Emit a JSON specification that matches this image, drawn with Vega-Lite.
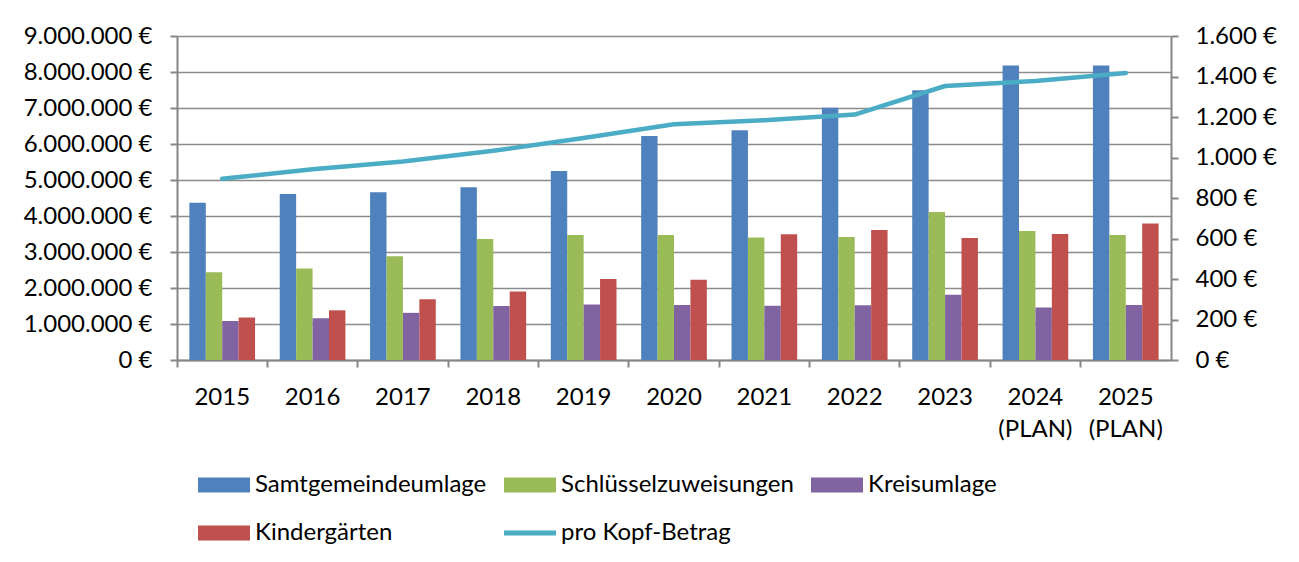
{
  "$schema": "https://vega.github.io/schema/vega-lite/v6.json",
  "width": 994,
  "height": 324,
  "autosize": {"type": "none"},
  "padding": {"left": 177, "top": 36, "right": 128, "bottom": 202},
  "background": "white",
  "config": {
    "view": {"stroke": null},
    "font": "Lato",
    "locale": {"number": {"decimal": ",", "thousands": ".", "grouping": [3], "currency": ["", " €"]}},
    "axis": {"labelFont": "Lato", "labelFontSize": 24, "labelColor": "#000000", "domainColor": "#868686", "domainWidth": 2, "tickColor": "#868686", "tickWidth": 2, "tickSize": 7, "title": null}
  },
  "datasets": {
    "bars": [
      {"Jahr": "2015", "Serie": "Samtgemeindeumlage", "Wert": 4370000},
      {"Jahr": "2015", "Serie": "Schlüsselzuweisungen", "Wert": 2440000},
      {"Jahr": "2015", "Serie": "Kreisumlage", "Wert": 1080000},
      {"Jahr": "2015", "Serie": "Kindergärten", "Wert": 1180000},
      {"Jahr": "2016", "Serie": "Samtgemeindeumlage", "Wert": 4610000},
      {"Jahr": "2016", "Serie": "Schlüsselzuweisungen", "Wert": 2540000},
      {"Jahr": "2016", "Serie": "Kreisumlage", "Wert": 1160000},
      {"Jahr": "2016", "Serie": "Kindergärten", "Wert": 1380000},
      {"Jahr": "2017", "Serie": "Samtgemeindeumlage", "Wert": 4660000},
      {"Jahr": "2017", "Serie": "Schlüsselzuweisungen", "Wert": 2880000},
      {"Jahr": "2017", "Serie": "Kreisumlage", "Wert": 1310000},
      {"Jahr": "2017", "Serie": "Kindergärten", "Wert": 1690000},
      {"Jahr": "2018", "Serie": "Samtgemeindeumlage", "Wert": 4800000},
      {"Jahr": "2018", "Serie": "Schlüsselzuweisungen", "Wert": 3360000},
      {"Jahr": "2018", "Serie": "Kreisumlage", "Wert": 1500000},
      {"Jahr": "2018", "Serie": "Kindergärten", "Wert": 1900000},
      {"Jahr": "2019", "Serie": "Samtgemeindeumlage", "Wert": 5250000},
      {"Jahr": "2019", "Serie": "Schlüsselzuweisungen", "Wert": 3470000},
      {"Jahr": "2019", "Serie": "Kreisumlage", "Wert": 1540000},
      {"Jahr": "2019", "Serie": "Kindergärten", "Wert": 2250000},
      {"Jahr": "2020", "Serie": "Samtgemeindeumlage", "Wert": 6220000},
      {"Jahr": "2020", "Serie": "Schlüsselzuweisungen", "Wert": 3470000},
      {"Jahr": "2020", "Serie": "Kreisumlage", "Wert": 1530000},
      {"Jahr": "2020", "Serie": "Kindergärten", "Wert": 2230000},
      {"Jahr": "2021", "Serie": "Samtgemeindeumlage", "Wert": 6380000},
      {"Jahr": "2021", "Serie": "Schlüsselzuweisungen", "Wert": 3400000},
      {"Jahr": "2021", "Serie": "Kreisumlage", "Wert": 1510000},
      {"Jahr": "2021", "Serie": "Kindergärten", "Wert": 3490000},
      {"Jahr": "2022", "Serie": "Samtgemeindeumlage", "Wert": 7010000},
      {"Jahr": "2022", "Serie": "Schlüsselzuweisungen", "Wert": 3420000},
      {"Jahr": "2022", "Serie": "Kreisumlage", "Wert": 1520000},
      {"Jahr": "2022", "Serie": "Kindergärten", "Wert": 3610000},
      {"Jahr": "2023", "Serie": "Samtgemeindeumlage", "Wert": 7490000},
      {"Jahr": "2023", "Serie": "Schlüsselzuweisungen", "Wert": 4110000},
      {"Jahr": "2023", "Serie": "Kreisumlage", "Wert": 1810000},
      {"Jahr": "2023", "Serie": "Kindergärten", "Wert": 3390000},
      {"Jahr": "2024 (PLAN)", "Serie": "Samtgemeindeumlage", "Wert": 8180000},
      {"Jahr": "2024 (PLAN)", "Serie": "Schlüsselzuweisungen", "Wert": 3580000},
      {"Jahr": "2024 (PLAN)", "Serie": "Kreisumlage", "Wert": 1460000},
      {"Jahr": "2024 (PLAN)", "Serie": "Kindergärten", "Wert": 3500000},
      {"Jahr": "2025 (PLAN)", "Serie": "Samtgemeindeumlage", "Wert": 8180000},
      {"Jahr": "2025 (PLAN)", "Serie": "Schlüsselzuweisungen", "Wert": 3470000},
      {"Jahr": "2025 (PLAN)", "Serie": "Kreisumlage", "Wert": 1530000},
      {"Jahr": "2025 (PLAN)", "Serie": "Kindergärten", "Wert": 3790000}
    ],
    "line": [
      {"Jahr": "2015", "Serie": "pro Kopf-Betrag", "Betrag": 895},
      {"Jahr": "2016", "Serie": "pro Kopf-Betrag", "Betrag": 942},
      {"Jahr": "2017", "Serie": "pro Kopf-Betrag", "Betrag": 980},
      {"Jahr": "2018", "Serie": "pro Kopf-Betrag", "Betrag": 1033},
      {"Jahr": "2019", "Serie": "pro Kopf-Betrag", "Betrag": 1096},
      {"Jahr": "2020", "Serie": "pro Kopf-Betrag", "Betrag": 1164},
      {"Jahr": "2021", "Serie": "pro Kopf-Betrag", "Betrag": 1184},
      {"Jahr": "2022", "Serie": "pro Kopf-Betrag", "Betrag": 1212},
      {"Jahr": "2023", "Serie": "pro Kopf-Betrag", "Betrag": 1353},
      {"Jahr": "2024 (PLAN)", "Serie": "pro Kopf-Betrag", "Betrag": 1378},
      {"Jahr": "2025 (PLAN)", "Serie": "pro Kopf-Betrag", "Betrag": 1417}
    ]
  },
  "encoding": {
    "x": {
      "field": "Jahr", "type": "nominal",
      "scale": {"domain": ["2015", "2016", "2017", "2018", "2019", "2020", "2021", "2022", "2023", "2024 (PLAN)", "2025 (PLAN)"], "paddingInner": 0.273, "paddingOuter": 0.137},
      "axis": {"bandPosition": -0.188, "labelOffset": 0, "labelAlign": "center", "labelAngle": 0, "labelExpr": "split(datum.label, ' ')", "labelLineHeight": 32, "labelBaseline": "top", "labelPadding": 18, "grid": false}
    }
  },
  "layer": [
    {
      "data": {"name": "bars"},
      "mark": {"type": "bar"},
      "encoding": {
        "xOffset": {"field": "Serie", "type": "nominal", "scale": {"domain": ["Samtgemeindeumlage", "Schlüsselzuweisungen", "Kreisumlage", "Kindergärten"], "paddingInner": 0, "paddingOuter": 0}},
        "y": {
          "field": "Wert", "type": "quantitative",
          "scale": {"domain": [0, 9000000], "nice": false},
          "axis": {"orient": "left", "values": [0, 1000000, 2000000, 3000000, 4000000, 5000000, 6000000, 7000000, 8000000, 9000000], "format": "$,.0f", "grid": true, "gridColor": "#8c8c8c", "gridWidth": 1.5, "labelPadding": 18}
        },
        "color": {
          "field": "Serie", "type": "nominal",
          "scale": {"domain": ["Samtgemeindeumlage", "Schlüsselzuweisungen", "Kreisumlage", "Kindergärten", "pro Kopf-Betrag"], "range": ["#4F81BD", "#9BBB59", "#8064A2", "#C0504D", "#4BACC6"]},
          "legend": {
            "orient": "none", "legendX": 21, "legendY": 423, "columns": 3, "direction": "horizontal", "title": null,
            "gridAlign": "each", "rowPadding": 10, "columnPadding": 17,
            "symbolType": "M-1,-0.29H1V0.29H-1Z", "symbolSize": 2704, "symbolStrokeWidth": 0,
            "labelFont": "Lato", "labelFontSize": 24, "labelColor": "#000000", "labelOffset": 5, "labelLimit": 400,
            "values": ["Samtgemeindeumlage", "Schlüsselzuweisungen", "Kreisumlage", "Kindergärten", "pro Kopf-Betrag"],
            "encode": {
              "symbols": {
                "update": {
                  "shape": {"signal": "datum.value === 'pro Kopf-Betrag' ? 'M-1,-0.095H1V0.095H-1Z' : 'M-1,-0.29H1V0.29H-1Z'"},
                  "fill": {"scale": "color", "field": "value"}
                }
              }
            }
          }
        }
      }
    },
    {
      "data": {"name": "line"},
      "mark": {"type": "line", "strokeWidth": 4.5, "strokeCap": "round", "strokeJoin": "round"},
      "encoding": {
        "y": {
          "field": "Betrag", "type": "quantitative",
          "scale": {"domain": [0, 1600], "nice": false},
          "axis": {"orient": "right", "values": [0, 200, 400, 600, 800, 1000, 1200, 1400, 1600], "format": "$,.0f", "grid": false, "labelPadding": 17}
        },
        "color": {"field": "Serie", "type": "nominal"}
      }
    }
  ],
  "resolve": {"scale": {"y": "independent"}, "axis": {"y": "independent"}}
}
